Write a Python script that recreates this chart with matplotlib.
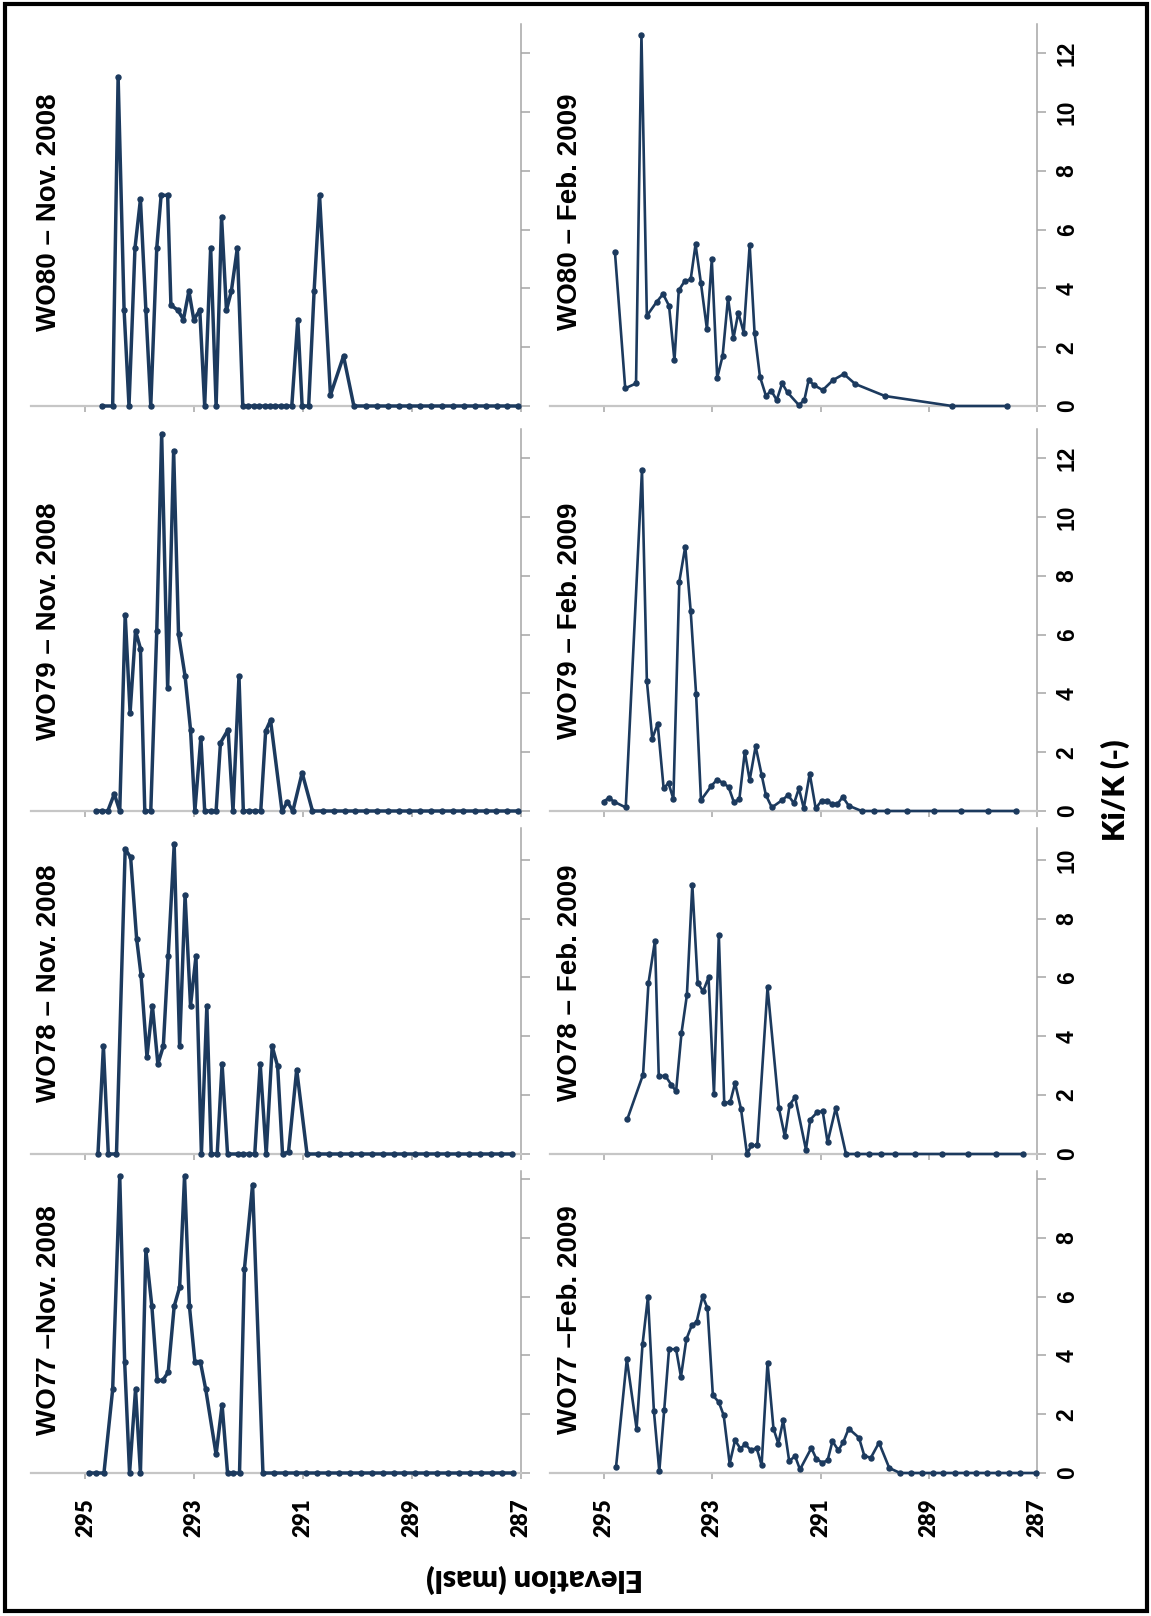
import matplotlib
matplotlib.use('Agg')
import matplotlib.pyplot as plt
from matplotlib.patches import Rectangle

FIG_W, FIG_H, DPI = 1151, 1616, 100

NAVY = '#1C3A5E'
AXIS_GREY = '#A6A6A6'
BASE_GREY = '#C6C6C6'
ARIAL = ['Liberation Sans', 'DejaVu Sans']
CALIBRI = ['Lato', 'DejaVu Sans']

elev_ticks = [295, 293, 291, 289, 287]

# Ki/K profiles against elevation (masl), one pair of lists per well and campaign
wo80_nov_elev = [294.70, 294.50, 294.40, 294.29, 294.20, 294.09, 293.99, 293.89, 293.80, 293.69,
                 293.61, 293.49, 293.43, 293.30, 293.20, 293.10, 293.01, 292.90, 292.81, 292.70,
                 292.60, 292.50, 292.41, 292.32, 292.21, 292.11, 292.01, 291.91, 291.81, 291.71,
                 291.61, 291.51, 291.41, 291.31, 291.21, 291.10, 291.02, 290.90, 290.80, 290.70,
                 290.50, 290.26, 290.07, 289.85, 289.65, 289.45, 289.25, 289.05, 288.85, 288.65,
                 288.45, 288.25, 288.05, 287.85, 287.65, 287.45, 287.25, 287.05]
wo80_nov_kik = [0, 0, 11.21, 3.26, 0, 5.38, 7.03, 3.26, 0, 5.38,
                7.17, 7.17, 3.43, 3.26, 2.94, 3.91, 2.94, 3.26, 0, 5.38,
                0, 6.43, 3.26, 3.91, 5.38, 0, 0, 0, 0, 0,
                0, 0, 0, 0, 0, 2.94, 0, 0, 3.91, 7.17,
                0.37, 1.70, 0, 0, 0, 0, 0, 0, 0, 0,
                0, 0, 0, 0, 0, 0, 0, 0]

wo80_feb_elev = [294.80, 294.61, 294.41, 294.31, 294.21, 294.03, 293.91, 293.80, 293.70, 293.62,
                 293.51, 293.40, 293.31, 293.21, 293.10, 293.01, 292.91, 292.81, 292.71, 292.61,
                 292.52, 292.42, 292.31, 292.22, 292.12, 292.01, 291.91, 291.81, 291.71, 291.61,
                 291.40, 291.30, 291.22, 291.12, 290.96, 290.77, 290.57, 290.36, 289.81, 288.57,
                 287.55]
wo80_feb_kik = [5.24, 0.60, 0.77, 12.63, 3.07, 3.54, 3.81, 3.41, 1.55, 3.94,
                4.25, 4.31, 5.50, 4.17, 2.62, 4.99, 0.96, 1.70, 3.68, 2.30,
                3.18, 2.50, 5.47, 2.50, 1.00, 0.35, 0.52, 0.20, 0.77, 0.46,
                0.03, 0.20, 0.88, 0.71, 0.54, 0.88, 1.09, 0.75, 0.34, 0,
                0]

wo79_nov_elev = [294.80, 294.70, 294.59, 294.47, 294.37, 294.27, 294.18, 294.08, 293.99, 293.91,
                 293.80, 293.69, 293.60, 293.49, 293.38, 293.29, 293.17, 293.07, 292.99, 292.88,
                 292.81, 292.70, 292.60, 292.52, 292.38, 292.29, 292.18, 292.10, 291.99, 291.89,
                 291.78, 291.69, 291.60, 291.39, 291.29, 291.19, 291.02, 290.83, 290.64, 290.44,
                 290.24, 290.04, 289.84, 289.64, 289.45, 289.25, 289.05, 288.85, 288.65, 288.45,
                 288.25, 288.06, 287.85, 287.65, 287.46, 287.26, 287.06]
wo79_nov_kik = [0, 0, 0, 0.58, 0, 6.68, 3.34, 6.13, 5.53, 0,
                0, 6.13, 12.83, 4.17, 12.26, 6.01, 4.59, 2.77, 0, 2.50,
                0, 0, 0, 2.32, 2.77, 0, 4.59, 0, 0, 0,
                0, 2.72, 3.09, 0, 0.31, 0, 1.30, 0, 0, 0,
                0, 0, 0, 0, 0, 0, 0, 0, 0, 0,
                0, 0, 0, 0, 0, 0, 0]

wo79_feb_elev = [295.01, 294.91, 294.82, 294.60, 294.30, 294.21, 294.11, 294.01, 293.90, 293.81,
                 293.72, 293.61, 293.50, 293.40, 293.30, 293.21, 293.02, 292.91, 292.80, 292.70,
                 292.60, 292.50, 292.40, 292.31, 292.20, 292.09, 292.01, 291.90, 291.71, 291.60,
                 291.49, 291.40, 291.31, 291.20, 291.09, 290.98, 290.89, 290.78, 290.69, 290.59,
                 290.48, 290.24, 290.01, 289.77, 289.40, 288.91, 288.40, 287.90, 287.39]
wo79_feb_kik = [0.32, 0.45, 0.32, 0.12, 11.61, 4.43, 2.46, 2.97, 0.77, 0.95,
                0.41, 7.81, 9.00, 6.80, 3.98, 0.37, 0.85, 1.07, 0.95, 0.82,
                0.29, 0.41, 2.01, 1.05, 2.20, 1.24, 0.54, 0.12, 0.37, 0.54,
                0.26, 0.77, 0.09, 1.27, 0.09, 0.35, 0.34, 0.24, 0.23, 0.48,
                0.18, 0, 0, 0, 0, 0, 0, 0, 0]

wo78_nov_elev = [294.77, 294.67, 294.58, 294.43, 294.27, 294.17, 294.06, 293.98, 293.87, 293.77,
                 293.67, 293.57, 293.48, 293.37, 293.27, 293.17, 293.07, 292.97, 292.87, 292.77,
                 292.69, 292.58, 292.49, 292.39, 292.20, 292.10, 292.00, 291.89, 291.79, 291.68,
                 291.57, 291.47, 291.38, 291.27, 291.12, 290.93, 290.72, 290.52, 290.32, 290.12,
                 289.93, 289.73, 289.54, 289.34, 289.14, 288.94, 288.74, 288.55, 288.35, 288.15,
                 287.95, 287.76, 287.56, 287.36, 287.16]
wo78_nov_kik = [0, 3.66, 0, 0, 10.37, 10.08, 7.32, 6.10, 3.30, 5.04,
                3.06, 3.66, 6.72, 10.52, 3.66, 8.79, 5.04, 6.72, 0, 5.04,
                0, 0, 3.06, 0, 0, 0, 0, 0, 3.06, 0,
                3.66, 2.98, 0, 0.07, 2.87, 0, 0, 0, 0, 0,
                0, 0, 0, 0, 0, 0, 0, 0, 0, 0,
                0, 0, 0, 0, 0]

wo78_feb_elev = [294.57, 294.28, 294.18, 294.06, 293.99, 293.87, 293.76, 293.67, 293.57, 293.47,
                 293.37, 293.27, 293.17, 293.07, 292.97, 292.88, 292.78, 292.67, 292.58, 292.47,
                 292.36, 292.28, 292.17, 291.98, 291.77, 291.66, 291.57, 291.47, 291.27, 291.19,
                 291.06, 290.96, 290.87, 290.72, 290.53, 290.32, 290.10, 289.88, 289.62, 289.25,
                 288.76, 288.27, 287.75, 287.26]
wo78_feb_kik = [1.19, 2.70, 5.81, 7.25, 2.64, 2.66, 2.36, 2.13, 4.11, 5.40,
                9.15, 5.81, 5.53, 6.00, 2.05, 7.45, 1.73, 1.76, 2.41, 1.53,
                0, 0.29, 0.29, 5.66, 1.56, 0.60, 1.68, 1.93, 0.15, 1.17,
                1.42, 1.45, 0.40, 1.56, 0, 0, 0, 0, 0, 0,
                0, 0, 0, 0]

wo77_nov_elev = [294.94, 294.80, 294.66, 294.50, 294.37, 294.28, 294.19, 294.08, 293.99, 293.89,
                 293.78, 293.68, 293.58, 293.48, 293.37, 293.27, 293.18, 293.09, 292.99, 292.89,
                 292.79, 292.60, 292.49, 292.39, 292.29, 292.17, 292.08, 291.93, 291.74, 291.54,
                 291.34, 291.14, 290.94, 290.74, 290.54, 290.34, 290.14, 289.94, 289.74, 289.54,
                 289.34, 289.14, 288.94, 288.74, 288.54, 288.34, 288.14, 287.94, 287.74, 287.54,
                 287.34, 287.14]
wo77_nov_kik = [0, 0, 0, 2.84, 10.09, 3.79, 0, 2.84, 0, 7.57,
                5.67, 3.15, 3.15, 3.43, 5.67, 6.32, 10.09, 5.67, 3.79, 3.79,
                2.84, 0.63, 2.32, 0, 0, 0, 6.94, 9.81, 0, 0,
                0, 0, 0, 0, 0, 0, 0, 0, 0, 0,
                0, 0, 0, 0, 0, 0, 0, 0, 0, 0,
                0, 0]

wo77_feb_elev = [294.78, 294.58, 294.40, 294.29, 294.19, 294.08, 293.98, 293.89, 293.80, 293.67,
                 293.58, 293.48, 293.38, 293.29, 293.18, 293.09, 292.99, 292.88, 292.79, 292.68,
                 292.58, 292.48, 292.39, 292.29, 292.18, 292.09, 291.98, 291.87, 291.78, 291.69,
                 291.58, 291.47, 291.38, 291.17, 291.08, 290.97, 290.87, 290.78, 290.67, 290.58,
                 290.48, 290.29, 290.19, 290.07, 289.92, 289.73, 289.53, 289.33, 289.13, 288.92,
                 288.73, 288.52, 288.32, 288.12, 287.92, 287.72, 287.52, 287.31, 287.01]
wo77_feb_kik = [0.20, 3.87, 1.51, 4.37, 5.99, 2.11, 0.06, 2.13, 4.21, 4.21,
                3.27, 4.55, 5.02, 5.14, 6.01, 5.61, 2.64, 2.41, 1.96, 0.32,
                1.11, 0.83, 0.98, 0.77, 0.85, 0.26, 3.75, 1.51, 1.00, 1.79,
                0.41, 0.57, 0.12, 0.85, 0.49, 0.35, 0.43, 1.08, 0.77, 1.05,
                1.51, 1.20, 0.58, 0.52, 1.03, 0.17, 0, 0, 0, 0,
                0, 0, 0, 0, 0, 0, 0, 0, 0]

titles = [['WO80 \u2013 Nov. 2008', 'WO80 \u2013 Feb. 2009'],
          ['WO79 \u2013 Nov. 2008', 'WO79 \u2013 Feb. 2009'],
          ['WO78 \u2013 Nov. 2008', 'WO78 \u2013 Feb. 2009'],
          ['WO77 \u2013Nov. 2008', 'WO77 \u2013Feb. 2009']]
series = [[(wo80_nov_elev, wo80_nov_kik), (wo80_feb_elev, wo80_feb_kik)],
          [(wo79_nov_elev, wo79_nov_kik), (wo79_feb_elev, wo79_feb_kik)],
          [(wo78_nov_elev, wo78_nov_kik), (wo78_feb_elev, wo78_feb_kik)],
          [(wo77_nov_elev, wo77_nov_kik), (wo77_feb_elev, wo77_feb_kik)]]
kik_max = [13, 13, 11.08, 10.27]
kik_ticks = [[0, 2, 4, 6, 8, 10, 12],
             [0, 2, 4, 6, 8, 10, 12],
             [0, 2, 4, 6, 8, 10],
             [0, 2, 4, 6, 8, 10]]
kik_labels = [['0', '2', '4', '6', '8', '10', '12'],
              ['0', '2', '4', '6', '8', '10', '12'],
              ['0', '2', '4', '6', '8', '10'],
              ['0', '2', '4', '6', '8', '']]

# panel boxes in pixels: columns (left, right), rows (top, baseline)
col_px = [(31, 521), (550, 1037)]
row_px = [(24, 406), (429, 811), (828, 1154), (1171, 1473)]
title_x = [49, 570]
title_y = [212, 621, 983, 1320]


def fx(px):
    return px / FIG_W


def fy(px):
    return 1 - px / FIG_H


fig = plt.figure(figsize=(FIG_W / DPI, FIG_H / DPI), dpi=DPI)

for r in range(4):
    for c in range(2):
        x0, x1 = col_px[c]
        y0, y1 = row_px[r]
        ax = fig.add_axes([fx(x0), fy(y1), (x1 - x0) / FIG_W, (y1 - y0) / FIG_H])
        elev, kik = series[r][c]
        ax.plot(elev, kik, color=NAVY, lw=2.5 if c == 0 else 1.9,
                marker='o', ms=3.6, mfc=NAVY, mec=NAVY, clip_on=False, zorder=3)

        ax.set_xlim(296, 287)
        ax.set_ylim(0, kik_max[r])
        ax.patch.set_visible(False)
        for side in ('left', 'top'):
            ax.spines[side].set_visible(False)
        ax.spines['bottom'].set_color(BASE_GREY)
        ax.spines['bottom'].set_linewidth(1.6)
        ax.spines['right'].set_color(AXIS_GREY)
        ax.spines['right'].set_linewidth(1.1)

        ax.set_xticks(elev_ticks)
        ax.tick_params(axis='x', direction='out', length=4, width=1.1, color=AXIS_GREY,
                       labelbottom=(r == 3), pad=14)
        ax.yaxis.tick_right()
        ax.set_yticks(kik_ticks[r])
        ax.tick_params(axis='y', direction='out', length=6.5, width=1.1, color=AXIS_GREY,
                       labelright=(c == 1), labelleft=False, pad=7)
        if r == 3:
            ax.set_xticklabels([str(t) for t in elev_ticks])
            for lbl in ax.get_xticklabels():
                lbl.set_rotation(90)
                lbl.set_fontfamily(CALIBRI)
                lbl.set_fontweight('heavy')
                lbl.set_fontsize(16)
        if c == 1:
            ax.set_yticklabels(kik_labels[r])
            for lbl in ax.get_yticklabels():
                lbl.set_rotation(90)
                lbl.set_verticalalignment('center')
                lbl.set_fontfamily(ARIAL)
                lbl.set_fontweight('bold')
                lbl.set_fontsize(16.5)

        fig.text(fx(title_x[c]), fy(title_y[r]), titles[r][c], rotation=90,
                 ha='center', va='center', fontsize=20, fontweight='bold', family=ARIAL)

fig.text(fx(535), fy(1579), 'Elevation (masl)', rotation=180, ha='center', va='center',
         fontsize=22, fontweight='heavy', family=CALIBRI)
fig.text(fx(1115), fy(790), 'Ki/K (-)', rotation=90, ha='center', va='center',
         fontsize=22, fontweight='heavy', family=CALIBRI)

fig.patches.append(Rectangle((fx(5), fy(1611)), fx(1147) - fx(5), fy(4) - fy(1611),
                             transform=fig.transFigure, fill=False,
                             edgecolor='black', linewidth=3))

fig.savefig('out.png', dpi=DPI)
